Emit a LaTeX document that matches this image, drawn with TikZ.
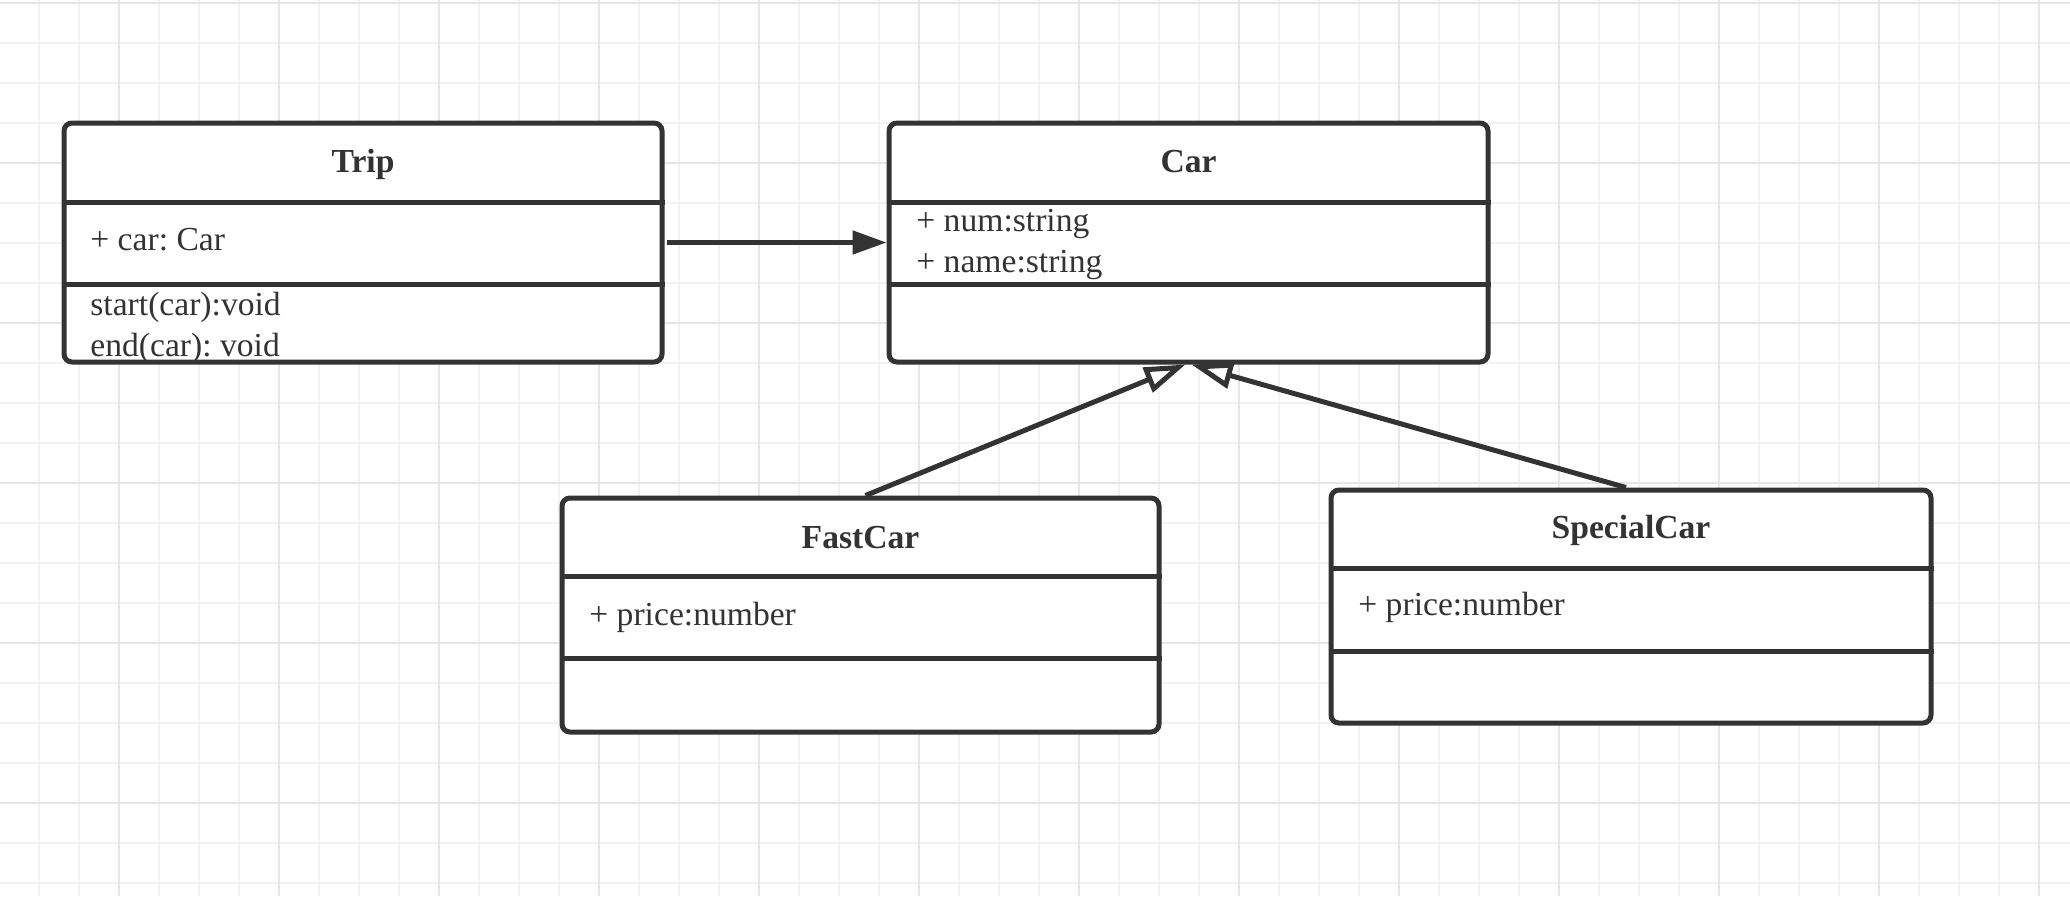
\documentclass[tikz,border=0pt]{standalone}
\usepackage{fontspec}
\setmainfont{Liberation Serif}
\usetikzlibrary{arrows.meta}
\definecolor{ink}{HTML}{333333}
\definecolor{gridminor}{HTML}{F2F2F2}
\definecolor{gridmajor}{HTML}{E6E6E6}
\frenchspacing
\begin{document}
\begin{tikzpicture}[x=0.5pt,y=-0.5pt,
  classbox/.style={draw=ink, line width=2.5pt, rounded corners=4pt, fill=white, inner sep=0pt},
  sepline/.style={draw=ink, line width=2.5pt},
  title/.style={anchor=base, inner sep=0pt, text=ink, font=\fontsize{16.8pt}{20pt}\selectfont\bfseries\frenchspacing},
  member/.style={anchor=base west, inner sep=0pt, text=ink, font=\fontsize{16.8pt}{20pt}\selectfont\frenchspacing},
  assoc/.style={draw=ink, line width=2.5pt, -{Triangle[length=17pt,width=11.5pt]}},
  inherit/.style={draw=ink, line width=2.5pt, -{Triangle[fill=white,length=20.5pt,width=13pt]}},
  minorgrid/.style={draw=gridminor, line width=0.8pt},
  majorgrid/.style={draw=gridmajor, line width=1pt}]

\fill[white] (0,0) rectangle (2070,896);
\useasboundingbox (0,0) rectangle (2070,896);

% background grid
\foreach \x in {-1,39,...,2075} \draw[minorgrid] (\x,0) -- (\x,896);
\foreach \y in {2.7,42.7,...,900} \draw[minorgrid] (0,\y) -- (2070,\y);
\foreach \x in {119,279,...,2075} \draw[majorgrid] (\x,0) -- (\x,896);
\foreach \y in {2.7,162.7,...,900} \draw[majorgrid] (0,\y) -- (2070,\y);

% classes
\node[classbox, minimum width=299pt, minimum height=119.5pt] (trip) at (363,242.5) {};
\node[classbox, minimum width=299.5pt, minimum height=119.5pt] (car) at (1188.5,242.5) {};
\node[classbox, minimum width=298.5pt, minimum height=117pt] (fastcar) at (860.5,615) {};
\node[classbox, minimum width=300pt, minimum height=116.5pt] (specialcar) at (1631,606.5) {};

% compartments
\draw[sepline] (trip.west |- 0,202) -- (trip.east |- 0,202);
\draw[sepline] (trip.west |- 0,284) -- (trip.east |- 0,284);
\draw[sepline] (car.west |- 0,202) -- (car.east |- 0,202);
\draw[sepline] (car.west |- 0,284) -- (car.east |- 0,284);
\draw[sepline] (fastcar.west |- 0,576) -- (fastcar.east |- 0,576);
\draw[sepline] (fastcar.west |- 0,658) -- (fastcar.east |- 0,658);
\draw[sepline] (specialcar.west |- 0,568) -- (specialcar.east |- 0,568);
\draw[sepline] (specialcar.west |- 0,651) -- (specialcar.east |- 0,651);

% texts
\node[title] (triptitle) at (363,172) {Trip};
\node[member] (tripattr) at (90,250) {+ car: Car};
\node[member] (tripop1) at (90,315) {start(car):void};
\node[member] (tripop2) at (90,356) {end(car): void};

\node[title] (cartitle) at (1188.5,172) {Car};
\node[member] (carattr1) at (916,231) {+ num:string};
\node[member] (carattr2) at (916,272) {+ name:string};

\node[title] (fasttitle) at (860.5,548) {FastCar};
\node[member] (fastattr) at (589,625) {+ price:number};

\node[title] (specialtitle) at (1631,538) {SpecialCar};
\node[member] (specialattr) at (1358,615) {+ price:number};

% connectors
\draw[assoc] ([xshift=1pt]trip.east) -- (car.west);
\draw[inherit] ([xshift=2.5pt]fastcar.north) -- ([xshift=-1.5pt]car.south);
\draw[inherit] ([xshift=-2.5pt]specialcar.north) -- ([xshift=1.5pt]car.south);
\end{tikzpicture}
\end{document}
